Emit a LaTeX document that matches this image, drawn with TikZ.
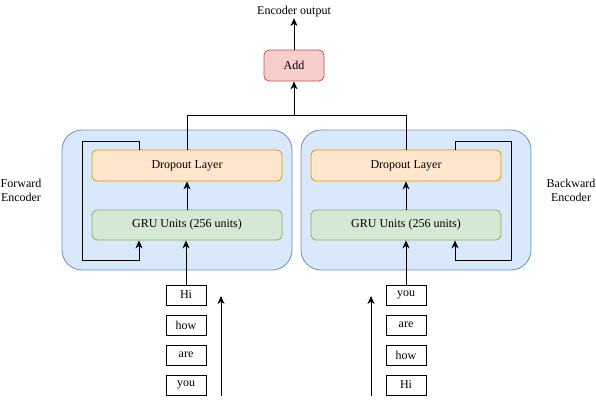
\documentclass[tikz,border=0pt]{standalone}
\usepackage{fontspec}
\setmainfont{Liberation Serif}
\usetikzlibrary{arrows.meta,positioning}
\definecolor{encfill}{HTML}{DAE8FC}\definecolor{encdraw}{HTML}{6C8EBF}
\definecolor{dropfill}{HTML}{FFE6CC}\definecolor{dropdraw}{HTML}{D79B00}
\definecolor{grufill}{HTML}{D5E8D4}\definecolor{grudraw}{HTML}{82B366}
\definecolor{addfill}{HTML}{F8CECC}\definecolor{adddraw}{HTML}{B85450}
\tikzset{
  enc/.style={draw=encdraw,fill=encfill,rounded corners=20pt,minimum width=230pt,minimum height=140pt,inner sep=0pt,line width=0.8pt},
  drop/.style={draw=dropdraw,fill=dropfill,rounded corners=5pt,minimum width=190pt,minimum height=31pt,inner sep=0pt,line width=0.8pt},
  gru/.style={draw=grudraw,fill=grufill,rounded corners=5pt,minimum width=190pt,minimum height=30pt,inner sep=0pt,line width=0.8pt},
  addbox/.style={draw=adddraw,fill=addfill,rounded corners=5pt,minimum width=60pt,minimum height=31pt,inner sep=0pt,line width=0.8pt},
  word/.style={draw=black,fill=white,minimum width=40pt,minimum height=20pt,inner sep=0pt,line width=0.8pt},
  lbl/.style={align=center,inner sep=0pt},
  conn/.style={line width=1pt,-{Stealth[length=8pt,width=7pt,inset=2.5pt]}},
  plain/.style={line width=1pt},
}
\begin{document}
\begin{tikzpicture}[x=1pt,y=-1pt,font=\fontsize{12}{14.5}\selectfont]
\useasboundingbox (0,0) rectangle (596,404);
% containers
\node[enc] (encL) at (177,200) {};
\node[enc] (encR) at (416,200) {};
\node[drop] (dropL) at (187,165.5) {Dropout Layer};
\node[gru] (gruL) at (187,225) {GRU Units (256 units)};
\node[drop] (dropR) at (406,165.5) {Dropout Layer};
\node[gru] (gruR) at (406,225) {GRU Units (256 units)};
\node[addbox] (add) at (294,65.5) {Add};
\node[lbl] (out) at (294,11.5) {Encoder output};
\node[lbl] (fwd) at (21,190.5) {Forward\\Encoder};
\node[lbl] (bwd) at (571,190.5) {Backward\\Encoder};
% words
\node[word] (wL1) at (186,295) {Hi};
\node[word] (wL2) at (186,325) {how};
\node[word] (wL3) at (186,355) {are};
\node[word] (wL4) at (186,385) {you};
\node[word] (wR1) at (406,295) {you};
\node[word] (wR2) at (406,325) {are};
\node[word] (wR3) at (406,355) {how};
\node[word] (wR4) at (406,385) {Hi};
% coordinates
\coordinate (jL) at (187,115);
\coordinate (jR) at (406,115);
\coordinate (jM) at (294,115);
\coordinate (aLb) at (221,396);
\coordinate (aLt) at (221,296);
\coordinate (aRb) at (371,396);
\coordinate (aRt) at (371,296);
\coordinate (fL1) at (139,141);
\coordinate (fL2) at (82,141);
\coordinate (fL3) at (82,260);
\coordinate (fL4) at (139,260);
\coordinate (fR1) at (455,141);
\coordinate (fR2) at (511,141);
\coordinate (fR3) at (511,260);
\coordinate (fR4) at (455,260);
% connectors
\draw[conn] (gruL.north) -- (dropL.south);
\draw[conn] (gruR.north) -- (dropR.south);
\draw[conn] (wL1.north) -- (wL1.north |- gruL.south);
\draw[conn] (wR1.north) -- (wR1.north |- gruR.south);
\draw[plain] (dropL.north) -- (jL) -- (jR) -- (dropR.north);
\draw[conn] (jM) -- (add.south);
\draw[conn] (add.north) -- ([yshift=-1pt]out.south);
\draw[conn] (fL1 |- dropL.north) -- (fL1) -- (fL2) -- (fL3) -- (fL4) -- (fL4 |- gruL.south);
\draw[conn] (fR1 |- dropR.north) -- (fR1) -- (fR2) -- (fR3) -- (fR4) -- (fR4 |- gruR.south);
\draw[conn] (aLb) -- (aLt);
\draw[conn] (aRb) -- (aRt);
\end{tikzpicture}
\end{document}
